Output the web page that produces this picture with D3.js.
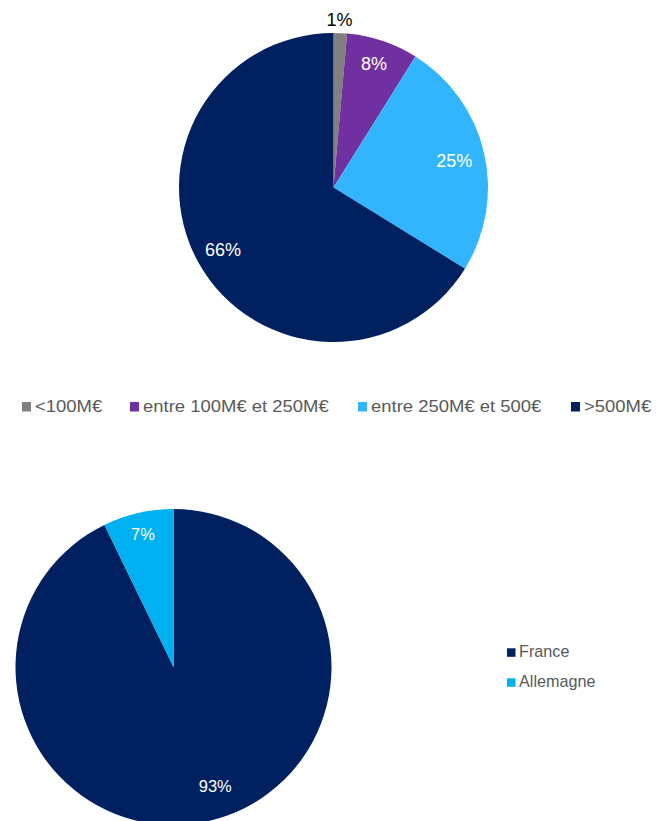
<!DOCTYPE html>
<html>
<head>
<meta charset="utf-8">
<script src="https://cdn.jsdelivr.net/npm/d3@7"></script>
<style>
  html, body { margin: 0; padding: 0; background: #fff; }
  svg text { font-family: "Liberation Sans", Arial, sans-serif; }
</style>
</head>
<body>
<svg id="chart" width="656" height="821"></svg>
<script>
// Répartition par taille de transaction
const sizeCategories = ["<100M€", "entre 100M€ et 250M€", "entre 250M€ et 500€", ">500M€"];
const sizeShares = [1.4, 7.5, 24.9, 66.2];
const sizeColors = ["#808080", "#7030A0", "#33B5FE", "#002060"];

// Répartition par pays
const countryCategories = ["France", "Allemagne"];
const countryShares = [92.8, 7.2];
const countryColors = ["#002060", "#00B0F0"];

const svg = d3.select("#chart");
const pct = v => Math.round(v) + "%";

// labelPos: distance relative au rayon ; labelTurn: décalage angulaire en degrés
function drawPie(cx, cy, r, cats, vals, colors, labelPos, labelTurn, fontSize) {
  const data = cats.map((c, i) => ({ cat: c, value: vals[i], color: colors[i] }));
  const pie = d3.pie().value(d => d.value).sort(null);
  const arc = d3.arc().innerRadius(0).outerRadius(r);
  const g = svg.append("g").attr("transform", `translate(${cx},${cy})`);
  const arcs = pie(data);
  g.selectAll("path").data(arcs).join("path")
    .attr("d", arc)
    .attr("fill", d => d.data.color);
  g.selectAll("text").data(arcs).join("text")
    .attr("transform", (d, i) => {
      const p = labelPos[i];
      const a = (d.startAngle + d.endAngle) / 2 + labelTurn[i] * Math.PI / 180;
      return `translate(${Math.sin(a) * r * p},${-Math.cos(a) * r * p})`;
    })
    .attr("text-anchor", "middle")
    .attr("dy", "0.35em")
    .attr("font-size", fontSize)
    .attr("fill", (d, i) => labelPos[i] > 1 ? "#000" : "#fff")
    .text(d => pct(d.data.value));
}

drawPie(333.5, 187.5, 154.5, sizeCategories, sizeShares, sizeColors,
        [1.09, 0.843, 0.80, 0.82], [-0.5, -0.4, 0.7, -0.2], 18);
drawPie(173.5, 667, 158, countryCategories, countryShares, countryColors,
        [0.797, 0.863], [-6.4, 0], 16.5);

// Légende horizontale
const legendX = [22, 130, 358, 571];
const lg = svg.append("g");
sizeCategories.forEach((c, i) => {
  const it = lg.append("g").attr("transform", `translate(${legendX[i]},0)`);
  it.append("rect").attr("x", 0).attr("y", 402).attr("width", 9).attr("height", 9.5).attr("fill", sizeColors[i]);
  it.append("text").attr("transform", "translate(13,412.3) scale(1.12,1)")
    .attr("font-size", 16.5).attr("fill", "#595959").text(c);
});

// Légende verticale
const lg2 = svg.append("g");
countryCategories.forEach((c, i) => {
  const y = i * 30;
  lg2.append("rect").attr("x", 507).attr("y", 648.3 + y).attr("width", 8.5).attr("height", 8.5).attr("fill", countryColors[i]);
  lg2.append("text").attr("x", 519).attr("y", 657.3 + y)
    .attr("font-size", 16.2).attr("fill", "#595959").text(c);
});
</script>
</body>
</html>
